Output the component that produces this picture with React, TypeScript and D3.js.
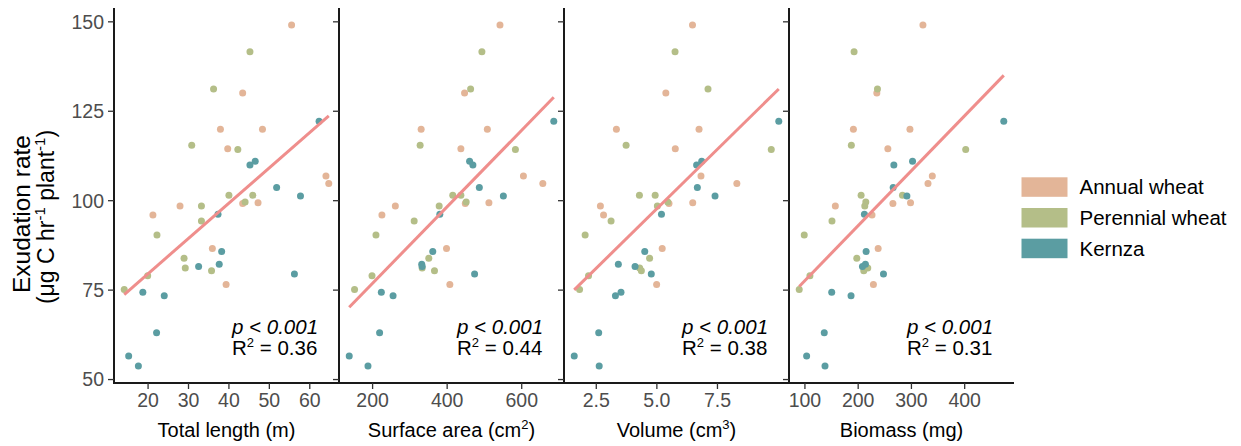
import React from "react";
import * as d3 from "d3";

// ---- data ----
const groups = [
  ...Array(13).fill("Annual wheat"),
  ...Array(15).fill("Perennial wheat"),
  ...Array(15).fill("Kernza"),
];
const exudation = [
  149.1, 130.1, 120.0, 120.0, 114.5, 106.9, 104.8, 98.5, 99.2, 99.4, 96.0, 86.6, 76.6,
  141.6, 131.2, 115.5, 114.3, 101.5, 101.5, 98.5, 99.6, 94.3, 90.4, 83.9, 81.2, 80.4, 79.0, 75.2,
  122.2, 111.0, 110.0, 103.7, 101.3, 96.2, 85.8, 82.2, 81.6, 79.5, 74.4, 73.4, 63.1, 56.6, 53.8,
];
const totalLength = [
  55.5, 43.4, 37.9, 48.3, 39.7, 64.0, 64.7, 27.9, 43.4, 47.2, 21.2, 35.9, 39.3,
  45.2, 36.2, 30.8, 42.2, 40.0, 45.9, 33.2, 44.0, 33.2, 22.2, 28.9, 29.2, 35.7, 19.9, 14.1,
  62.3, 46.5, 45.2, 51.8, 57.7, 37.3, 38.2, 37.6, 32.5, 56.2, 18.7, 24.0, 22.1, 15.2, 17.6,
];
const surfaceArea = [
  541.7, 446.7, 330.2, 507.8, 436.8, 604.6, 656.6, 261, 448.6, 512, 225, 398.3, 407.2,
  493.2, 462.9, 327.5, 583.1, 415, 436.8, 378.6, 451, 311.5, 209, 350.7, 332.9, 366, 198.4, 151.6,
  686, 460.2, 469, 486.3, 550.8, 380.3, 361.4, 331.8, 333, 473.6, 223.4, 254.9, 218.8, 137.3, 187.6,
];
const volume = [
  6.47, 5.37, 3.33, 6.74, 5.76, 6.82, 8.3, 2.67, 5.5, 6.48, 2.8, 5.22, 4.99,
  5.75, 7.11, 3.73, 9.72, 4.28, 4.93, 5.02, 5.45, 3.11, 2.04, 4.7, 4.29, 4.36, 2.18, 1.81,
  10.03, 6.85, 6.64, 6.67, 7.4, 5.19, 4.5, 3.41, 4.1, 4.77, 3.52, 3.29, 2.6, 1.59, 2.62,
];
const biomass = [
  321.6, 235, 191, 297.2, 255.7, 339.2, 331.1, 157.1, 265.2, 298.3, 226, 237.5, 228.6,
  192.3, 236.2, 187.2, 401.9, 205.5, 283.2, 212.4, 214.3, 150.8, 98.7, 197.4, 218, 210.5, 109.4, 89.3,
  473.4, 302.1, 267, 265.7, 291.5, 211.7, 214.9, 213.6, 208, 247.5, 150.3, 186.6, 136.3, 103.2, 137.7,
];
const yTicks = [50, 75, 100, 125, 150];
const panelTicks = [
  [20, 30, 40, 50, 60],
  [200, 400, 600],
  [2.5, 5.0, 7.5],
  [100, 200, 300, 400],
];
const tickFormats = ["d", "d", ".1f", "d"];
const pLabels = ["p < 0.001", "p < 0.001", "p < 0.001", "p < 0.001"];
const r2Values = ["0.36", "0.44", "0.38", "0.31"];
const legendLabels = ["Annual wheat", "Perennial wheat", "Kernza"];
const colors = ["#E3B598", "#B4BE88", "#5B9DA2"];

const panelX = [totalLength, surfaceArea, volume, biomass];
const titles = [
  { main: "Total length (m)", sup: "" },
  { main: "Surface area (cm", sup: "2" },
  { main: "Volume (cm", sup: "3" },
  { main: "Biomass (mg)", sup: "" },
];

// ---- layout ----
const W = 1241;
const H = 446;
const panelLeft = 114;
const panelW = 225;
const top = 8;
const bottom = 383;
const font = "'Liberation Sans', Arial, sans-serif";

function expand(ext: [number, number]): [number, number] {
  const r = ext[1] - ext[0];
  return [ext[0] - 0.05 * r, ext[1] + 0.05 * r];
}

function fit(xs: number[], ys: number[]) {
  const mx = d3.mean(xs) as number;
  const my = d3.mean(ys) as number;
  let sxy = 0, sxx = 0;
  xs.forEach((x, i) => {
    sxy += (x - mx) * (ys[i] - my);
    sxx += (x - mx) * (x - mx);
  });
  const b = sxy / sxx;
  return { a: my - b * mx, b };
}

export default function App() {
  const y = d3
    .scaleLinear()
    .domain(expand(d3.extent(exudation) as [number, number]))
    .range([bottom, top]);
  const color = d3.scaleOrdinal<string, string>().domain(legendLabels).range(colors);

  return (
    <svg
      width={W}
      height={H}
      style={{ position: "absolute", left: 0, top: 0, background: "#fff" }}
      fontFamily={font}
    >
      <rect width={W} height={H} fill="#fff" />
      {/* y axis title */}
      <g transform={`translate(21, 214) rotate(-90)`}>
        <text textAnchor="middle" fontSize={24.5} dy="0.35em" fill="#000">
          Exudation rate
        </text>
      </g>
      <g transform={`translate(46, 217) rotate(-90)`}>
        <text textAnchor="middle" fontSize={23} dy="0.35em" fill="#000">
          (μg C hr
          <tspan fontSize={15} dy="-9">-1</tspan>
          <tspan dy="9"> plant</tspan>
          <tspan fontSize={15} dy="-9">-1</tspan>
          <tspan dy="9">)</tspan>
        </text>
      </g>
      {/* y tick labels */}
      {yTicks.map((t) => (
        <text
          key={t}
          x={panelLeft - 10}
          y={y(t)}
          dy="0.35em"
          textAnchor="end"
          fontSize={19.5}
          fill="#4D4D4D"
        >
          {t}
        </text>
      ))}
      {panelX.map((xs, pi) => {
        const x0 = panelLeft + pi * panelW;
        const x = d3
          .scaleLinear()
          .domain(expand(d3.extent(xs) as [number, number]))
          .range([x0, x0 + panelW]);
        const f = fit(xs, exudation);
        const [xmin, xmax] = d3.extent(xs) as [number, number];
        const fmt = d3.format(tickFormats[pi]);
        return (
          <g key={pi}>
            {/* points */}
            {xs.map((v, i) => (
              <circle key={i} cx={x(v)} cy={y(exudation[i])} r={3.5} fill={color(groups[i])} />
            ))}
            {/* regression */}
            <line
              x1={x(xmin)}
              y1={y(f.a + f.b * xmin)}
              x2={x(xmax)}
              y2={y(f.a + f.b * xmax)}
              stroke="#EF8E8C"
              strokeWidth={3}
            />
            {/* y axis line and ticks */}
            <line x1={x0} x2={x0} y1={top} y2={bottom + 1} stroke="#1a1a1a" strokeWidth={2} />
            {yTicks.map((t) => (
              <line key={t} x1={x0 - 6} x2={x0} y1={y(t)} y2={y(t)} stroke="#333" strokeWidth={1.3} />
            ))}
            {/* x axis */}
            <line x1={x0 - 1} x2={x0 + panelW} y1={bottom} y2={bottom} stroke="#1a1a1a" strokeWidth={2} />
            {panelTicks[pi].map((t) => (
              <g key={t}>
                <line x1={x(t)} x2={x(t)} y1={bottom} y2={bottom + 6} stroke="#333" strokeWidth={1.3} />
                <text x={x(t)} y={bottom + 24} textAnchor="middle" fontSize={19.5} fill="#4D4D4D">
                  {fmt(t)}
                </text>
              </g>
            ))}
            <text x={x0 + panelW / 2} y={437} textAnchor="middle" fontSize={20} fill="#000">
              {titles[pi].main}
              {titles[pi].sup && (
                <>
                  <tspan fontSize={13} dy="-8">{titles[pi].sup}</tspan>
                  <tspan dy="8">)</tspan>
                </>
              )}
            </text>
            {/* annotation */}
            <text x={x0 + panelW - 107} y={334} fontSize={20.5} fill="#000" fontStyle="italic">
              {pLabels[pi]}
            </text>
            <text x={x0 + panelW - 107} y={355} fontSize={20.5} fill="#000">
              R<tspan fontSize={13} dy="-8">2</tspan>
              <tspan dy="8"> = {r2Values[pi]}</tspan>
            </text>
          </g>
        );
      })}
      {/* legend */}
      {legendLabels.map((l, i) => (
        <g key={l} transform={`translate(1021.5, ${177.3 + i * 30.7})`}>
          <rect width={46} height={19.5} fill={color(l)} />
          <text x={58} y={9.75} dy="0.36em" fontSize={20.5} fill="#000">
            {l}
          </text>
        </g>
      ))}
    </svg>
  );
}
